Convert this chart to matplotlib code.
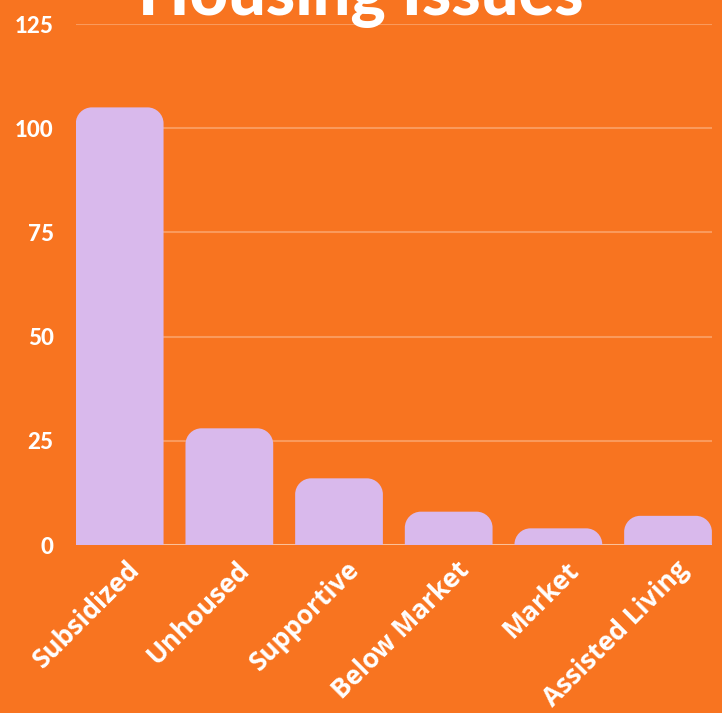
import matplotlib.pyplot as plt
import matplotlib.transforms as mtransforms
from matplotlib.path import Path
from matplotlib.patches import PathPatch

# data
categories = ["Subsidized", "Unhoused", "Supportive", "Below Market", "Market", "Assisted Living"]
counts = [105, 28, 16, 8, 4, 7]
y_ticks = [0, 25, 50, 75, 100, 125]

bg = "#F87420"
bar_color = "#D9B9EC"
grid_color = "#FA9A5C"

plt.rcParams["font.family"] = ["Lato", "DejaVu Sans"]
plt.rcParams["font.weight"] = "black"

fig = plt.figure(figsize=(7.22, 7.13), dpi=100, facecolor=bg)
ax = fig.add_axes([0.105, 0.2356, 0.881, 0.7307], facecolor=bg)

x = list(range(len(categories)))
bars = ax.bar(x, counts, width=0.8, color=bar_color, zorder=3)
ax.set_xlim(-0.4, len(categories) - 0.6)
ax.set_ylim(0, 125)

# swap the plain rectangles for ones with rounded top corners
fig.canvas.draw()
bbox = ax.get_window_extent()
px_x = bbox.width / (ax.get_xlim()[1] - ax.get_xlim()[0])
px_y = bbox.height / (ax.get_ylim()[1] - ax.get_ylim()[0])
r_px = 16
k = 0.5523
for b in bars:
    x0 = b.get_x()
    w = b.get_width()
    h = b.get_height()
    rx = r_px / px_x
    ry = min(r_px, h * px_y) / px_y
    x1 = x0 + w
    verts = [
        (x0, 0), (x0, h - ry),
        (x0, h - ry + k * ry), (x0 + rx - k * rx, h), (x0 + rx, h),
        (x1 - rx, h),
        (x1 - rx + k * rx, h), (x1, h - ry + k * ry), (x1, h - ry),
        (x1, 0), (x0, 0),
    ]
    codes = [Path.MOVETO, Path.LINETO,
             Path.CURVE4, Path.CURVE4, Path.CURVE4,
             Path.LINETO,
             Path.CURVE4, Path.CURVE4, Path.CURVE4,
             Path.LINETO, Path.CLOSEPOLY]
    ax.add_patch(PathPatch(Path(verts, codes), facecolor=bar_color, edgecolor="none", zorder=3))
    b.set_visible(False)

ax.set_yticks(y_ticks)
ax.set_xticks(x)
ax.set_xticklabels(categories, rotation=45, ha="right", rotation_mode="anchor",
                   family=["Open Sans", "DejaVu Sans"], fontweight="bold")
ax.tick_params(axis="y", length=0, pad=16, labelsize=16, labelcolor="white")
ax.tick_params(axis="x", length=0, pad=8, labelsize=19, labelcolor="white")
shift = mtransforms.ScaledTranslation(5 / 72, 0, fig.dpi_scale_trans)
for lbl in ax.get_xticklabels():
    lbl.set_transform(lbl.get_transform() + shift)
ax.grid(axis="y", color=grid_color, linewidth=1.5, zorder=0)
for s in ax.spines.values():
    s.set_visible(False)
ax.axhline(0, color="#FCC9A6", linewidth=1.2, zorder=2)

fig.text(0.5, 0.979, "Housing Issues", ha="center", va="baseline",
         fontsize=48, fontweight="black", color="white")

plt.savefig("out.png", dpi=100, facecolor=bg)
